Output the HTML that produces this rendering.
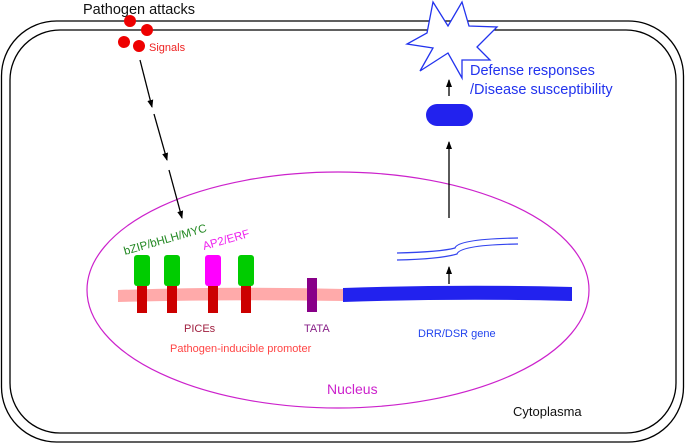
<!DOCTYPE html>
<html><head><meta charset="utf-8"><style>
html,body{margin:0;padding:0;background:#fff}
svg{display:block}
text{font-family:"Liberation Sans",sans-serif}
</style></head><body>
<svg width="685" height="445" viewBox="0 0 685 445" xmlns="http://www.w3.org/2000/svg">
<defs>
<marker id="ah" markerWidth="8" markerHeight="8" refX="7" refY="4" orient="auto" markerUnits="userSpaceOnUse">
<path d="M0,1 L8,4 L0,7 Z" fill="#000"/></marker>
</defs>
<rect x="1.5" y="21" width="682" height="421" rx="55" fill="none" stroke="#000" stroke-width="1.3"/>
<rect x="10" y="30" width="666" height="403" rx="50" fill="none" stroke="#000" stroke-width="1.3"/>
<ellipse cx="338" cy="290" rx="251" ry="118" fill="none" stroke="#cc22cc" stroke-width="1.2"/>
<text x="83" y="14" font-size="14.5" fill="#111">Pathogen attacks</text>
<circle cx="130" cy="21" r="6" fill="#ee0000"/>
<circle cx="147" cy="30" r="6" fill="#ee0000"/>
<circle cx="124" cy="42" r="6" fill="#ee0000"/>
<circle cx="139" cy="46" r="6" fill="#ee0000"/>
<text x="149" y="51" font-size="11" fill="#ee2222">Signals</text>
<line x1="140" y1="60" x2="152" y2="107" stroke="#000" stroke-width="1.3" marker-end="url(#ah)"/>
<line x1="154" y1="114" x2="167" y2="160" stroke="#000" stroke-width="1.3" marker-end="url(#ah)"/>
<line x1="169" y1="170" x2="182" y2="218" stroke="#000" stroke-width="1.3" marker-end="url(#ah)"/>
<path d="M118,290 Q230,286 345,289 L345,301 Q230,299 118,302 Z" fill="#ffaaaa"/>
<path d="M343,288 Q460,284 572,287 L572,301 Q460,298 343,302 Z" fill="#2222ee"/>
<g fill="#cc0000"><rect x="137" y="286" width="10" height="27"/><rect x="167" y="286" width="10" height="27"/><rect x="208" y="286" width="10" height="27"/><rect x="241" y="286" width="10" height="27"/></g>
<rect x="134" y="255" width="16" height="31" rx="3" fill="#00cc00"/>
<rect x="164" y="255" width="16" height="31" rx="3" fill="#00cc00"/>
<rect x="205" y="255" width="16" height="31" rx="3" fill="#ff00ff"/>
<rect x="238" y="255" width="16" height="31" rx="3" fill="#00cc00"/>
<rect x="307" y="278" width="10" height="34" fill="#880088"/>
<text x="125" y="255" font-size="11.5" fill="#228822" transform="rotate(-16 125 255)">bZIP/bHLH/MYC</text>
<text x="204" y="250" font-size="11.5" fill="#ee22ee" transform="rotate(-16 204 250)">AP2/ERF</text>
<text x="184" y="332" font-size="11" fill="#a02040">PICEs</text>
<text x="304" y="332" font-size="11" fill="#882288">TATA</text>
<text x="170" y="352" font-size="11" fill="#ff4444">Pathogen-inducible promoter</text>
<text x="418" y="337" font-size="11" fill="#2244ee">DRR/DSR gene</text>
<text x="327" y="394" font-size="14" fill="#cc22cc">Nucleus</text>
<text x="513" y="416" font-size="13" fill="#111">Cytoplasma</text>
<path d="M433,2 L448,26 L462,2 L469,26 L497,27 L477,47 L490,60 L462,60 L462,78 L448,53 L420,71 L433,48 L407,44 L427,33 Z" fill="#fff" stroke="#2233ee" stroke-width="1.3"/>
<text x="470" y="75" font-size="14.5" fill="#2233ee">Defense responses</text>
<text x="470" y="94" font-size="14.5" fill="#2233ee">/Disease susceptibility</text>
<line x1="449" y1="96" x2="449" y2="80" stroke="#000" stroke-width="1.3" marker-end="url(#ah)"/>
<rect x="426" y="104" width="47" height="22" rx="11" fill="#2222ee"/>
<line x1="449" y1="218" x2="449" y2="142" stroke="#000" stroke-width="1.3" marker-end="url(#ah)"/>
<path d="M397,253 Q440,252 455,248 Q458,239 518,238" fill="none" stroke="#3344ee" stroke-width="1.2"/>
<path d="M397,260 Q440,259 457,254 Q460,245 518,244" fill="none" stroke="#3344ee" stroke-width="1.2"/>
<line x1="449" y1="284" x2="449" y2="267" stroke="#000" stroke-width="1.3" marker-end="url(#ah)"/>
</svg>
</body></html>
